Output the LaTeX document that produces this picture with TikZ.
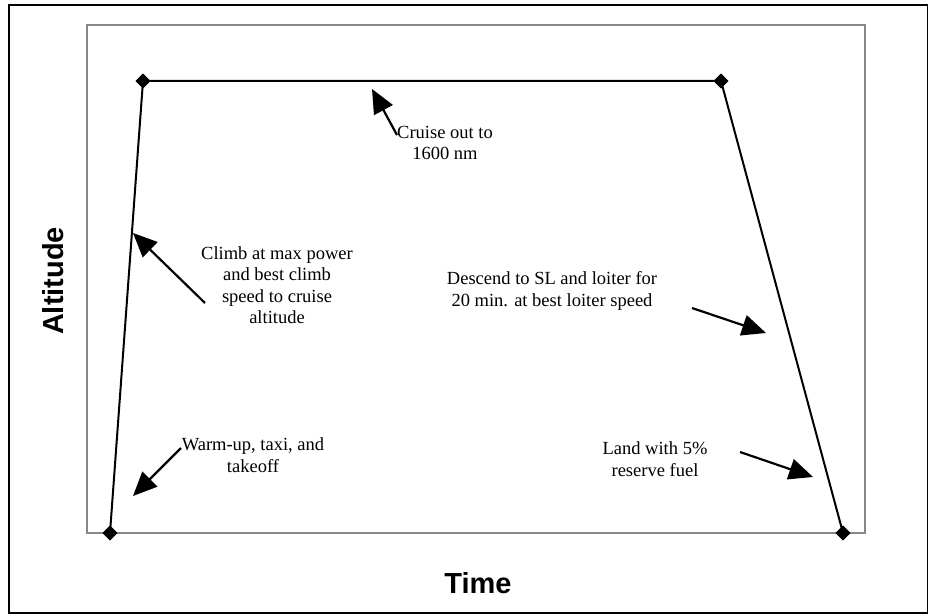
\documentclass[tikz,border=0pt]{standalone}
\usepackage{fontspec}
\setmainfont{Liberation Serif}
\newfontfamily\arialfont{Liberation Sans}
\usetikzlibrary{shapes.geometric,arrows.meta}
\definecolor{framegray}{RGB}{135,135,135}
\begin{document}
\begin{tikzpicture}[x=1pt,y=-1pt,
  vertex/.style={diamond,fill=black,inner sep=0pt,minimum size=15pt},
  note/.style={align=center,font=\fontsize{18.5}{21.5}\selectfont,inner sep=0pt},
  axislabel/.style={font=\arialfont\bfseries\fontsize{29}{32}\selectfont,inner sep=0pt},
  pointer/.style={line width=2.2pt,-{Triangle[length=24pt,width=21pt]}},
  profile/.style={line width=2pt}]
\useasboundingbox (0,0) rectangle (928,615);
\fill[white] (0,0) rectangle (928,615);
\draw[line width=1.3pt] (9,5) rectangle (927.4,613);
\draw[line width=2.2pt,framegray] (87,25) rectangle (865,533);
% profile points
\node[vertex] (p1) at (110,533) {};
\node[vertex] (p2) at (143,81) {};
\node[vertex] (p3) at (721,81) {};
\node[vertex] (p4) at (843,533) {};
\draw[profile] (p1.center) -- (p2.center) -- (p3.center) -- (p4.center);
\node[vertex] at (110,533) {};
\node[vertex] at (143,81) {};
\node[vertex] at (721,81) {};
\node[vertex] at (843,533) {};
% labels
\node[note] (t1) at (445,143) {Cruise out to\\1600 nm};
\node[note] (t2) at (277,285) {Climb at max power\\and best climb\\speed to cruise\\altitude};
\node[note] (t3) at (552,291) {Descend to SL and loiter for\\20 min. at best loiter speed};
\node[note] (t4) at (253,455) {Warm-up, taxi, and\\takeoff};
\node[note] (t5) at (655,459) {Land with 5\%\\reserve fuel};
% arrow endpoints
\coordinate (a1s) at (397,135); \coordinate (a1e) at (372,89);
\coordinate (a2s) at (205,303); \coordinate (a2e) at (133,233);
\coordinate (a3s) at (692,308); \coordinate (a3e) at (766,333);
\coordinate (a4s) at (181,448); \coordinate (a4e) at (133,496);
\coordinate (a5s) at (740,452); \coordinate (a5e) at (813,477);
\draw[pointer] (a1s) -- (a1e);
\draw[pointer] (a2s) -- (a2e);
\draw[pointer] (a3s) -- (a3e);
\draw[pointer] (a4s) -- (a4e);
\draw[pointer] (a5s) -- (a5e);
% axis labels
\node[axislabel,rotate=90] (ya) at (53,281) {Altitude};
\node[axislabel] (xa) at (478,583) {Time};
\end{tikzpicture}
\end{document}
